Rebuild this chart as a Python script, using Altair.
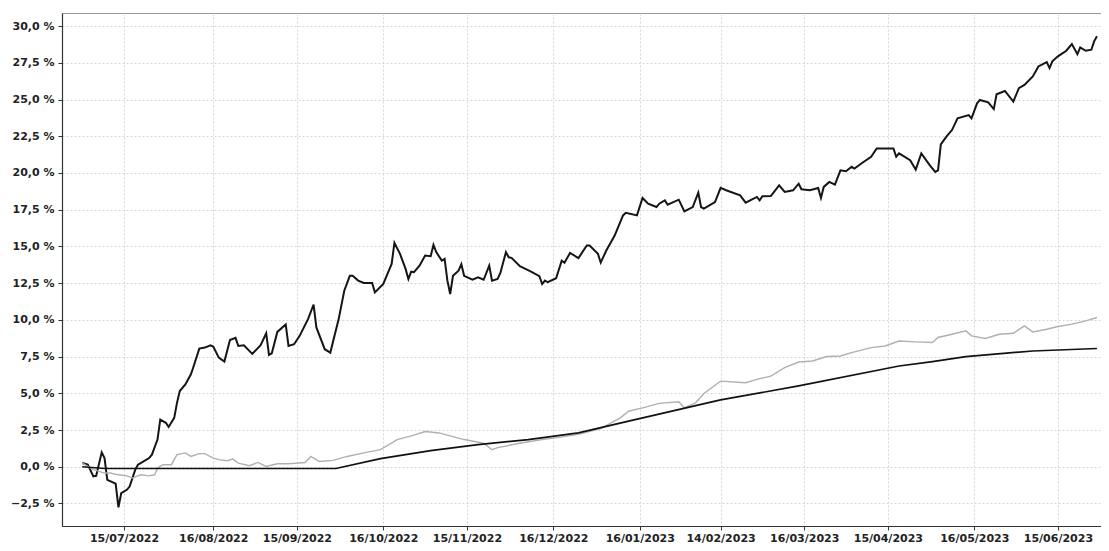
import altair as alt
import pandas as pd

# Fund (volatile black line)
fund_dates = [
    "2022-06-30", "2022-07-02", "2022-07-04", "2022-07-05", "2022-07-07", "2022-07-08", "2022-07-09",
    "2022-07-11", "2022-07-12", "2022-07-13", "2022-07-14", "2022-07-16", "2022-07-17", "2022-07-19",
    "2022-07-20", "2022-07-22", "2022-07-24", "2022-07-25", "2022-07-27", "2022-07-28", "2022-07-30",
    "2022-07-31", "2022-08-02", "2022-08-03", "2022-08-04", "2022-08-06", "2022-08-08", "2022-08-09",
    "2022-08-11", "2022-08-13", "2022-08-15", "2022-08-16", "2022-08-18", "2022-08-20", "2022-08-22",
    "2022-08-24", "2022-08-25", "2022-08-27", "2022-08-30", "2022-09-02", "2022-09-04", "2022-09-05",
    "2022-09-06", "2022-09-08", "2022-09-11", "2022-09-12", "2022-09-14", "2022-09-16", "2022-09-19",
    "2022-09-21", "2022-09-22", "2022-09-25", "2022-09-27", "2022-09-30", "2022-10-02", "2022-10-04",
    "2022-10-05", "2022-10-07", "2022-10-09", "2022-10-12", "2022-10-13", "2022-10-16", "2022-10-19",
    "2022-10-20", "2022-10-22", "2022-10-24", "2022-10-25", "2022-10-26", "2022-10-27", "2022-10-29",
    "2022-10-31", "2022-11-02", "2022-11-03", "2022-11-04", "2022-11-06", "2022-11-07", "2022-11-08",
    "2022-11-09", "2022-11-10", "2022-11-12", "2022-11-13", "2022-11-14", "2022-11-17", "2022-11-19",
    "2022-11-21", "2022-11-23", "2022-11-24", "2022-11-26", "2022-11-27", "2022-11-29", "2022-11-30",
    "2022-12-01", "2022-12-04", "2022-12-06", "2022-12-08", "2022-12-11", "2022-12-12", "2022-12-13",
    "2022-12-14", "2022-12-17", "2022-12-19", "2022-12-20", "2022-12-22", "2022-12-25", "2022-12-28",
    "2022-12-29", "2023-01-01", "2023-01-02", "2023-01-04", "2023-01-06", "2023-01-07", "2023-01-10",
    "2023-01-11", "2023-01-15", "2023-01-17", "2023-01-19", "2023-01-22", "2023-01-23", "2023-01-25",
    "2023-01-26", "2023-01-30", "2023-02-01", "2023-02-04", "2023-02-06", "2023-02-07", "2023-02-08",
    "2023-02-12", "2023-02-14", "2023-02-16", "2023-02-21", "2023-02-23", "2023-02-27", "2023-02-28",
    "2023-03-01", "2023-03-04", "2023-03-07", "2023-03-09", "2023-03-12", "2023-03-14", "2023-03-15",
    "2023-03-18", "2023-03-21", "2023-03-22", "2023-03-23", "2023-03-25", "2023-03-27", "2023-03-29",
    "2023-03-31", "2023-04-02", "2023-04-03", "2023-04-06", "2023-04-09", "2023-04-11", "2023-04-12",
    "2023-04-17", "2023-04-18", "2023-04-19", "2023-04-23", "2023-04-25", "2023-04-27", "2023-04-30",
    "2023-05-02", "2023-05-03", "2023-05-04", "2023-05-06", "2023-05-08", "2023-05-10", "2023-05-14",
    "2023-05-15", "2023-05-17", "2023-05-18", "2023-05-21", "2023-05-23", "2023-05-24", "2023-05-27",
    "2023-05-30", "2023-06-01", "2023-06-03", "2023-06-06", "2023-06-08", "2023-06-11", "2023-06-12",
    "2023-06-13", "2023-06-15", "2023-06-18", "2023-06-20", "2023-06-22", "2023-06-23", "2023-06-25",
    "2023-06-27", "2023-06-28", "2023-06-29",
]
fund_vals = [
    0.25, 0.14, -0.66, -0.62, 0.98, 0.59, -0.89,
    -1.07, -1.16, -2.76, -1.80, -1.57, -1.35, -0.21,
    0.14, 0.36, 0.59, 0.82, 1.85, 3.21, 2.99,
    2.71, 3.33, 4.35, 5.15, 5.60, 6.29, 6.86,
    8.04, 8.11, 8.27, 8.18, 7.43, 7.16, 8.63,
    8.77, 8.22, 8.27, 7.68, 8.27, 9.09, 7.61,
    7.72, 9.18, 9.69, 8.22, 8.34, 8.91, 10.05,
    11.03, 9.48, 8.00, 7.77, 10.05, 11.98, 13.00,
    13.00, 12.67, 12.51, 12.51, 11.87, 12.44, 13.81,
    15.24, 14.49, 13.47, 12.78, 13.28, 13.24, 13.69,
    14.38, 14.33, 15.11, 14.61, 14.03, 14.15, 12.67,
    11.76, 13.00, 13.35, 13.79, 13.00, 12.73, 12.90,
    12.73, 13.69, 12.67, 12.78, 13.19, 14.61, 14.26,
    14.22, 13.65, 13.47, 13.28, 12.97, 12.44, 12.67,
    12.56, 12.83, 14.03, 13.88, 14.56, 14.20, 15.06,
    15.06, 14.49, 13.90, 14.72, 15.40, 15.74, 17.11,
    17.29, 17.11, 18.30, 17.91, 17.68, 17.91, 18.13,
    17.84, 18.18, 17.38, 17.68, 18.66, 17.68, 17.57,
    18.02, 18.98, 18.82, 18.48, 17.98, 18.37, 18.13,
    18.41, 18.43, 19.16, 18.71, 18.82, 19.27, 18.89,
    18.82, 18.98, 18.30, 19.05, 19.39, 19.21, 20.18,
    20.12, 20.42, 20.30, 20.71, 21.10, 21.67, 21.67,
    21.67, 21.10, 21.33, 20.87, 20.23, 21.33, 20.53,
    20.07, 20.18, 21.94, 22.47, 22.92, 23.72, 23.94,
    23.72, 24.74, 24.97, 24.81, 24.35, 25.36, 25.58,
    24.86, 25.77, 25.99, 26.57, 27.25, 27.55, 27.14,
    27.60, 27.94, 28.32, 28.78, 28.09, 28.55, 28.32,
    28.39, 28.96, 29.30,
]

# Benchmark (grey line)
bench_dates = [
    "2022-06-30", "2022-07-04", "2022-07-08", "2022-07-10", "2022-07-13", "2022-07-16", "2022-07-18",
    "2022-07-21", "2022-07-24", "2022-07-26", "2022-07-27", "2022-07-29", "2022-08-01", "2022-08-03",
    "2022-08-06", "2022-08-08", "2022-08-11", "2022-08-13", "2022-08-16", "2022-08-18", "2022-08-21",
    "2022-08-23", "2022-08-25", "2022-08-29", "2022-09-01", "2022-09-04", "2022-09-08", "2022-09-12",
    "2022-09-18", "2022-09-20", "2022-09-23", "2022-09-28", "2022-10-03", "2022-10-09", "2022-10-15",
    "2022-10-21", "2022-10-26", "2022-10-31", "2022-11-05", "2022-11-11", "2022-11-14", "2022-11-21",
    "2022-11-24", "2022-11-26", "2022-12-04", "2022-12-12", "2022-12-18", "2022-12-25", "2023-01-02",
    "2023-01-09", "2023-01-12", "2023-01-17", "2023-01-23", "2023-01-25", "2023-01-30", "2023-02-01",
    "2023-02-05", "2023-02-08", "2023-02-14", "2023-02-23", "2023-02-27", "2023-03-04", "2023-03-09",
    "2023-03-14", "2023-03-19", "2023-03-24", "2023-03-29", "2023-04-02", "2023-04-09", "2023-04-14",
    "2023-04-19", "2023-04-25", "2023-05-01", "2023-05-03", "2023-05-08", "2023-05-13", "2023-05-15",
    "2023-05-20", "2023-05-25", "2023-05-30", "2023-06-03", "2023-06-06", "2023-06-11", "2023-06-15",
    "2023-06-20", "2023-06-25", "2023-06-29",
]
bench_vals = [
    0.25, -0.20, -0.43, -0.43, -0.55, -0.62, -0.77,
    -0.55, -0.62, -0.55, -0.09, 0.14, 0.14, 0.82,
    0.94, 0.70, 0.89, 0.89, 0.59, 0.48, 0.41,
    0.52, 0.25, 0.07, 0.29, 0.02, 0.20, 0.20,
    0.29, 0.70, 0.36, 0.43, 0.70, 0.94, 1.16,
    1.85, 2.10, 2.40, 2.30, 2.00, 1.85, 1.60,
    1.16, 1.30, 1.60, 1.85, 2.00, 2.20, 2.60,
    3.33, 3.78, 4.01, 4.31, 4.35, 4.42, 4.01,
    4.35, 4.99, 5.83, 5.72, 5.95, 6.17, 6.75,
    7.13, 7.20, 7.50, 7.54, 7.77, 8.11, 8.22,
    8.56, 8.50, 8.46, 8.80, 9.02, 9.25, 8.91,
    8.73, 9.02, 9.09, 9.59, 9.18, 9.36, 9.55,
    9.71, 9.93, 10.16,
]

# Target (smooth black line)
target_dates = [
    "2022-06-30", "2022-07-08", "2022-09-29", "2022-10-15", "2022-11-02", "2022-11-19",
    "2022-12-07", "2022-12-25", "2023-01-12", "2023-02-14", "2023-03-14", "2023-04-19",
    "2023-05-01", "2023-05-13", "2023-06-06", "2023-06-29",
]
target_vals = [
    0.00, -0.12, -0.12, 0.55, 1.10, 1.50,
    1.85, 2.30, 3.10, 4.55, 5.50, 6.86,
    7.16, 7.50, 7.88, 8.05,
]

x_ticks = [
    (2022, 7, 15), (2022, 8, 16), (2022, 9, 15), (2022, 10, 16), (2022, 11, 15), (2022, 12, 16),
    (2023, 1, 16), (2023, 2, 14), (2023, 3, 16), (2023, 4, 15), (2023, 5, 16), (2023, 6, 15),
]
y_ticks = [-2.5, 0.0, 2.5, 5.0, 7.5, 10.0, 12.5, 15.0, 17.5, 20.0, 22.5, 25.0, 27.5, 30.0]

series_names = ["Benchmark", "Objectif", "Fonds"]
series_colors = ["#b0b0b0", "#111111", "#151515"]
series_widths = [1.4, 2.0, 1.4]

frames = []
for name, ds, vs in [("Fonds", fund_dates, fund_vals),
                     ("Benchmark", bench_dates, bench_vals),
                     ("Objectif", target_dates, target_vals)]:
    frames.append(pd.DataFrame({"date": ds, "value": vs, "series": name}))
df = pd.concat(frames, ignore_index=True)

FONT = "DejaVu Sans"

x_enc = alt.X(
    "date:T",
    title="",
    scale=alt.Scale(
        type="utc",
        domain=[alt.DateTime(year=2022, month=6, date=22, hours=18, utc=True),
                alt.DateTime(year=2023, month=6, date=30, hours=11, utc=True)],
    ),
    axis=alt.Axis(
        values=[alt.DateTime(year=y, month=m, date=d, utc=True) for (y, m, d) in x_ticks],
        labelExpr="utcFormat(datum.value, '%d/%m/%Y')",
        grid=True, gridColor="#d6d6d6", gridDash=[2, 2], gridWidth=1,
        domainColor="#333333", domainWidth=1.2,
        tickColor="#333333", tickSize=4,
        labelFont=FONT, labelFontSize=11, labelFontWeight="bold", labelColor="#222222",
        labelPadding=2, labelFlush=False,
    ),
)
y_enc = alt.Y(
    "value:Q",
    title="",
    scale=alt.Scale(domain=[-4.035, 30.89], nice=False, zero=False),
    axis=alt.Axis(
        values=y_ticks,
        labelExpr="replace(format(datum.value, '.1f'), '.', ',') + ' %'",
        grid=True, gridColor="#d6d6d6", gridDash=[2, 2], gridWidth=1,
        domainColor="#333333", domainWidth=1.2,
        tickColor="#333333", tickSize=4,
        labelFont=FONT, labelFontSize=11, labelFontWeight="bold", labelColor="#222222",
        labelPadding=4,
    ),
)

chart = alt.Chart(df).mark_line(interpolate="linear").encode(
    x=x_enc,
    y=y_enc,
    color=alt.Color("series:N", scale=alt.Scale(domain=series_names, range=series_colors), legend=None),
    strokeWidth=alt.StrokeWidth("series:N", scale=alt.Scale(domain=series_names, range=series_widths), legend=None),
    order=alt.Order("date:T"),
    detail="series:N",
).properties(
    width=1039,
    height=513,
    autosize=alt.AutoSizeParams(type="none"),
    padding={"left": 54, "top": 5, "right": 0, "bottom": 17},
    background="white",
).configure_view(
    stroke="#9a9a9a", strokeWidth=1,
)

chart.save("out.html", embed_options={"renderer": "svg", "actions": False})
